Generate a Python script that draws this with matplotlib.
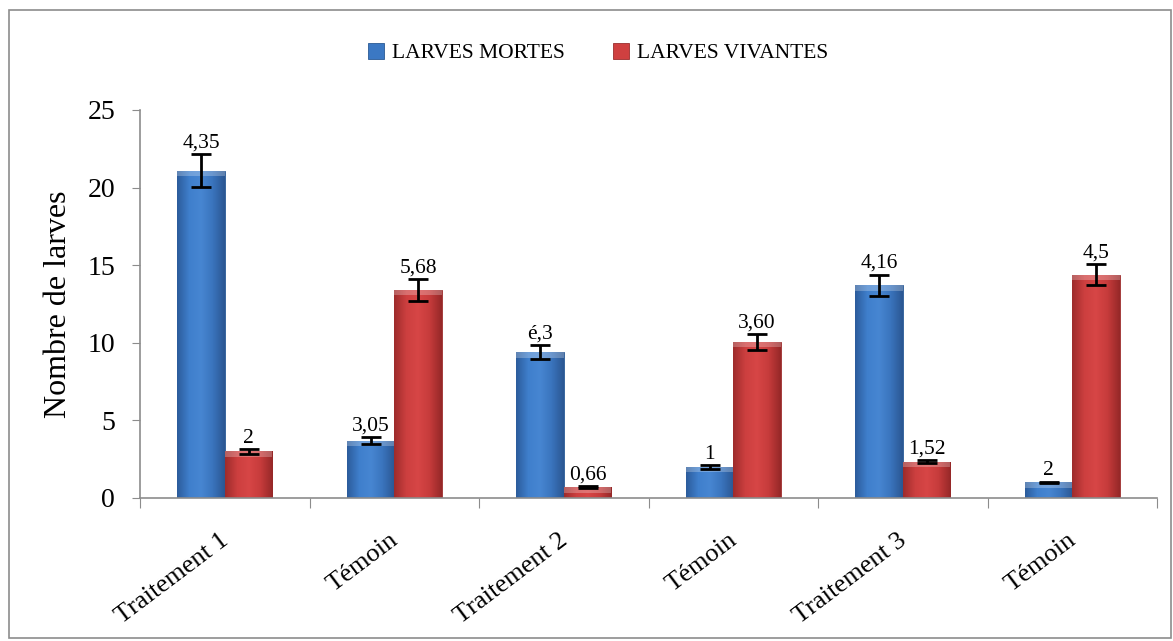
import matplotlib.pyplot as plt
import numpy as np
from matplotlib.patches import Rectangle
from matplotlib.colors import LinearSegmentedColormap

categories = ['Traitement 1', 'Témoin', 'Traitement 2', 'Témoin', 'Traitement 3', 'Témoin']
mortes = [21.1, 3.7, 9.4, 2.0, 13.7, 1.0]
mortes_err = [1.05, 0.2, 0.45, 0.1, 0.7, 0.06]
mortes_labels = ['4,35', '3,05', 'é,3', '1', '4,16', '2']
vivantes = [3.0, 13.4, 0.7, 10.05, 2.35, 14.4]
vivantes_err = [0.15, 0.7, 0.05, 0.5, 0.1, 0.7]
vivantes_labels = ['2', '5,68', '0,66', '3,60', '1,52', '4,5']

plt.rcParams['font.family'] = ['Liberation Serif', 'DejaVu Serif']

fig = plt.figure(figsize=(11.73, 6.41), dpi=100)
ax = fig.add_axes([0.1194, 0.2231, 0.867, 0.6053])

# outer frame of the chart
fig.patches.append(Rectangle((0.008, 0.005), 0.99, 0.98, transform=fig.transFigure,
                             fill=False, edgecolor='#8c8c8c', linewidth=1.2))

x = np.arange(len(categories))
w = 0.28
blue = '#3b78c3'
red = '#cf4040'
blue_cmap = LinearSegmentedColormap.from_list('b', ['#2c5c9c', '#3f7fcc', '#4786d2', '#3a74bd', '#2b5793'])
red_cmap = LinearSegmentedColormap.from_list('r', ['#9e2c2c', '#cc3f3f', '#d74646', '#c63b3b', '#962828'])

b1 = ax.bar(x - w / 2, mortes, w, color=blue, edgecolor='#2a5a94', linewidth=0.6,
            label='LARVES MORTES')
b2 = ax.bar(x + w / 2, vivantes, w, color=red, edgecolor='#9a2e2e', linewidth=0.6,
            label='LARVES VIVANTES')

# horizontal shading inside each bar
grad = np.linspace(0, 1, 64).reshape(1, -1)
for bars, cmap in ((b1, blue_cmap), (b2, red_cmap)):
    for bar in bars:
        x0, h = bar.get_x(), bar.get_height()
        im = ax.imshow(grad, cmap=cmap, aspect='auto', extent=(x0, x0 + w, 0, h),
                       zorder=bar.get_zorder() + 0.1)
        im.set_clip_path(bar)
        # lighter bevel along the top
        ax.fill_between([x0, x0 + w], [h, h], [h - 0.35, h - 0.35], color='white',
                        alpha=0.25, linewidth=0, zorder=bar.get_zorder() + 0.2)

ax.errorbar(x - w / 2, mortes, yerr=mortes_err, fmt='none', ecolor='black',
            elinewidth=2, capsize=7, capthick=2, zorder=5)
ax.errorbar(x + w / 2, vivantes, yerr=vivantes_err, fmt='none', ecolor='black',
            elinewidth=2, capsize=7, capthick=2, zorder=5)

for xi, v, e, lab in zip(x - w / 2, mortes, mortes_err, mortes_labels):
    ax.text(xi, v + e + 0.1, lab, ha='center', va='bottom', fontsize=15.5)
for xi, v, e, lab in zip(x + w / 2, vivantes, vivantes_err, vivantes_labels):
    ax.text(xi, v + e + 0.1, lab, ha='center', va='bottom', fontsize=15.5)

ax.set_xlim(-0.5, len(categories) - 0.5)
ax.set_ylim(0, 25)
ax.set_yticks([0, 5, 10, 15, 20, 25])
ax.tick_params(axis='y', labelsize=20, length=6, color='#8c8c8c', pad=12)

ax.set_xticks(np.arange(len(categories) + 1) - 0.5)
ax.set_xticklabels([])
ax.tick_params(axis='x', length=7, color='#8c8c8c')
for xi, lab in zip(x, categories):
    ax.text(xi - 0.03, -0.08, lab, rotation=37, ha='right', va='top',
            rotation_mode='anchor', fontsize=19, transform=ax.get_xaxis_transform())

for s in ['top', 'right']:
    ax.spines[s].set_visible(False)
for s in ['left', 'bottom']:
    ax.spines[s].set_color('#8c8c8c')
    ax.spines[s].set_linewidth(1.2)

ax.set_ylabel('Nombre de larves', fontsize=23, labelpad=10)

fig.legend(handles=[b1, b2], loc='center', bbox_to_anchor=(0.51, 0.917), ncol=2,
           frameon=False, fontsize=15.5, handlelength=0.75, handleheight=0.75,
           columnspacing=2.2, handletextpad=0.4)

fig.savefig('out.png', dpi=100)
